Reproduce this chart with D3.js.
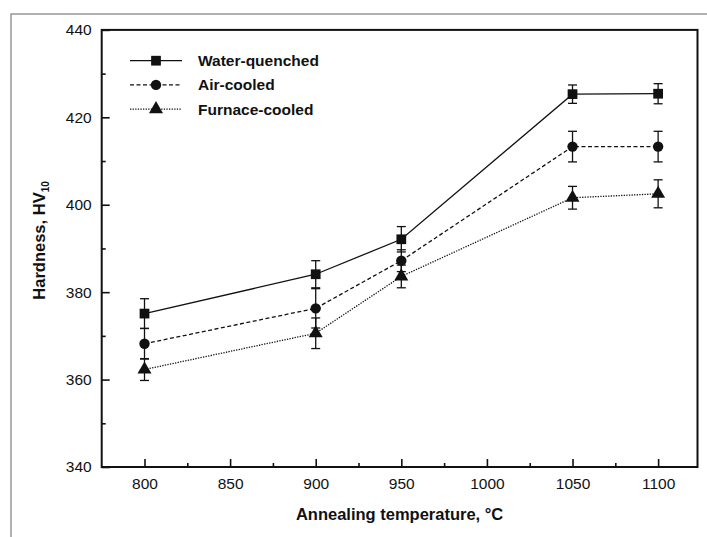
<!DOCTYPE html>
<html><head><meta charset="utf-8">
<script src="https://cdn.jsdelivr.net/npm/d3@7"></script>
<style>body{margin:0;background:#fff;} svg{display:block;} text{font-family:"Liberation Sans",Arial,sans-serif;fill:#111;}</style>
</head><body>
<script>
const temps = [800, 900, 950, 1050, 1100];
const seriesNames = ["Water-quenched", "Air-cooled", "Furnace-cooled"];
const waterQuenched = [375.1, 384.1, 392.1, 425.3, 425.4];
const waterErr      = [3.4, 3.1, 2.9, 2.1, 2.3];
const airCooled     = [368.2, 376.3, 387.2, 413.3, 413.3];
const airErr        = [3.5, 4.5, 2.5, 3.5, 3.5];
const furnaceCooled = [362.3, 370.6, 383.6, 401.6, 402.5];
const furnaceErr    = [2.5, 3.5, 2.6, 2.6, 3.2];
const xTicks = [800, 850, 900, 950, 1000, 1050, 1100];
const yTicks = [340, 360, 380, 400, 420, 440];

const W = 707, H = 537;
const svg = d3.select("body").append("svg").attr("width", W).attr("height", H);
const m = {l: 101.7, r: 697.5, t: 29.9, b: 467};
const x = d3.scaleLinear().domain([775, 1123]).range([m.l, m.r]);
const y = d3.scaleLinear().domain([340, 440]).range([m.b, m.t]);
const ink = "#111";

// outer frame
svg.append("rect").attr("x", 11).attr("y", 14).attr("width", 760).attr("height", 600)
  .attr("fill", "none").attr("stroke", "#888").attr("stroke-width", 1.3);

// axes with inward ticks
const gx = svg.append("g").attr("transform", `translate(0,${m.b})`)
  .call(d3.axisBottom(x).tickValues(xTicks).tickSize(-8).tickPadding(11).tickFormat(d3.format("d")));
const gxm = svg.append("g").attr("transform", `translate(0,${m.b})`)
  .call(d3.axisBottom(x).tickValues(d3.range(825, 1101, 50)).tickSize(-4).tickFormat(""));
const gy = svg.append("g").attr("transform", `translate(${m.l},0)`)
  .call(d3.axisLeft(y).tickValues(yTicks).tickSize(-8).tickPadding(10).tickFormat(d3.format("d")));
const gym = svg.append("g").attr("transform", `translate(${m.l},0)`)
  .call(d3.axisLeft(y).tickValues([350,370,390,410,430]).tickSize(-4).tickFormat(""));
[gx, gxm, gy, gym].forEach(g => {
  g.select(".domain").remove();
  g.selectAll(".tick line").attr("stroke", ink).attr("stroke-width", 1.6);
  g.selectAll(".tick text").attr("font-size", 15.5).attr("fill", ink);
});
gx.selectAll(".tick text").attr("dy", "0.71em");
svg.append("rect").attr("x", m.l).attr("y", m.t).attr("width", m.r - m.l).attr("height", m.b - m.t)
  .attr("fill", "none").attr("stroke", ink).attr("stroke-width", 2);

// axis titles
svg.append("text").attr("x", (m.l + m.r) / 2).attr("y", 520).attr("text-anchor", "middle")
  .attr("font-size", 16.5).attr("font-weight", "bold").text("Annealing temperature, °C");
const yt = svg.append("text").attr("transform", `translate(45,${(m.t + m.b) / 2 - 8}) rotate(-90)`)
  .attr("text-anchor", "middle").attr("font-size", 16.5).attr("font-weight", "bold");
yt.append("tspan").text("Hardness, HV");
yt.append("tspan").attr("font-size", 10).attr("dy", 4).text("10");

const series = [
  {name: seriesNames[0], vals: waterQuenched, err: waterErr, dash: null, shape: d3.symbolSquare, size: 95},
  {name: seriesNames[1], vals: airCooled, err: airErr, dash: "4,2.5", shape: d3.symbolCircle, size: 85},
  {name: seriesNames[2], vals: furnaceCooled, err: furnaceErr, dash: "1.3,1.3", shape: d3.symbolTriangle, size: 85}
];

const line = d3.line().x(d => x(d.t)).y(d => y(d.v));
series.forEach(s => {
  const pts = temps.map((t, i) => ({t, v: s.vals[i], e: s.err[i]}));
  svg.append("path").datum(pts).attr("d", line).attr("fill", "none").attr("stroke", ink)
    .attr("stroke-width", 1.3).attr("stroke-dasharray", s.dash);
  const eb = svg.append("g");
  pts.forEach(p => {
    eb.append("line").attr("x1", x(p.t)).attr("x2", x(p.t)).attr("y1", y(p.v - p.e)).attr("y2", y(p.v + p.e))
      .attr("stroke", ink).attr("stroke-width", 1.3);
    [p.v - p.e, p.v + p.e].forEach(v => eb.append("line").attr("x1", x(p.t) - 4.5).attr("x2", x(p.t) + 4.5)
      .attr("y1", y(v)).attr("y2", y(v)).attr("stroke", ink).attr("stroke-width", 1.3));
  });
  svg.append("g").selectAll("path").data(pts).join("path")
    .attr("d", d3.symbol(s.shape, s.size))
    .attr("transform", d => `translate(${x(d.t)},${y(d.v)})`).attr("fill", ink);
});

// legend
const leg = svg.append("g");
series.forEach((s, i) => {
  const yy = 60.7 + i * 24.2;
  leg.append("line").attr("x1", 130).attr("x2", 182).attr("y1", yy).attr("y2", yy)
    .attr("stroke", ink).attr("stroke-width", 1.3).attr("stroke-dasharray", s.dash);
  leg.append("path").attr("d", d3.symbol(s.shape, s.size)).attr("transform", `translate(156,${yy})`).attr("fill", ink);
  leg.append("text").attr("x", 198).attr("y", yy + 5.5).attr("font-size", 15.5).attr("font-weight", "bold").text(s.name);
});
</script>
</body></html>
